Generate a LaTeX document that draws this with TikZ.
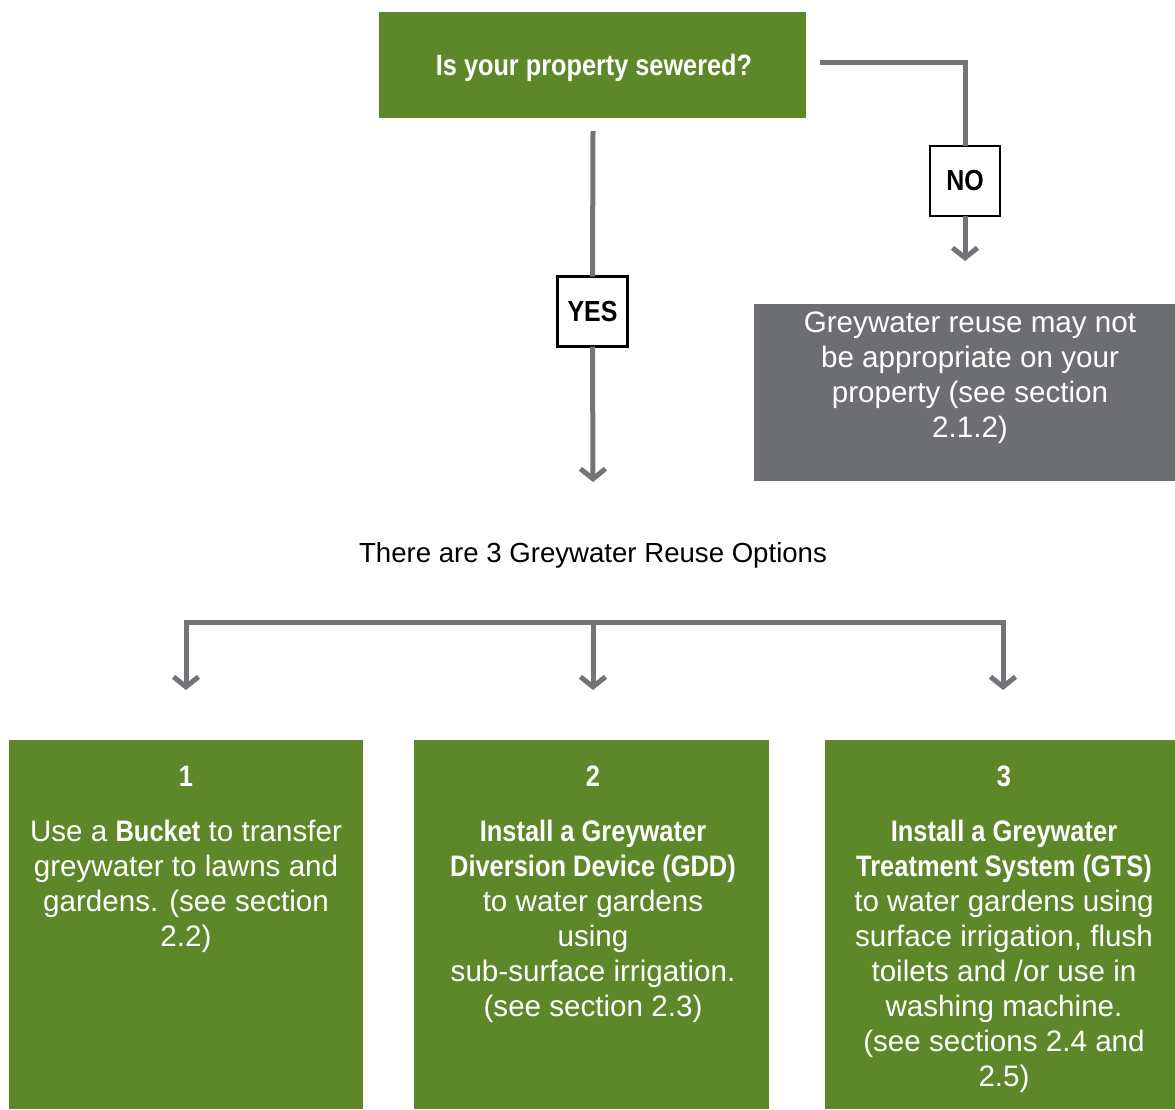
\documentclass[tikz,border=0pt]{standalone}
\usepackage{fontspec}
\setmainfont{Liberation Sans}[BoldFeatures={FakeStretch=0.86}]
\usetikzlibrary{arrows.meta}
\definecolor{leaf}{HTML}{5E8729}
\definecolor{slate}{HTML}{6D6E71}
\definecolor{wirecol}{HTML}{737477}
\tikzset{
  wire/.style={draw=wirecol, line width=5pt},
  wirearrow/.style={wire, -{Straight Barb[length=10pt,width=25pt]}},
  greenbox/.style={fill=leaf, draw=none, inner sep=0pt, outer sep=0pt, anchor=north west, minimum height=369pt},
  greybox/.style={fill=slate, draw=none, inner sep=0pt, outer sep=0pt, anchor=north west},
  tag/.style={draw=black, line width=2.5pt, fill=white, minimum width=70pt, minimum height=70pt, inner sep=0pt, outer sep=0pt, font=\fontsize{29}{32}\selectfont\bfseries},
  wtext/.style={text=white, align=center, inner sep=0pt, anchor=base, font=\fontsize{29.6}{35}\selectfont},
  btext/.style={text=black, inner sep=0pt, anchor=base, font=\fontsize{27.6}{32}\selectfont},
}
\begin{document}
\begin{tikzpicture}[x=1pt,y=-1pt]
\useasboundingbox (0,0) rectangle (1175,1109);
% top question
\node[greenbox, minimum width=427pt, minimum height=106pt] (q) at (379,12) {};
\node[wtext, font=\fontsize{29.4}{35}\selectfont\bfseries] (qt) at (594,75) {Is your property sewered?};
% NO branch
\coordinate (nostart) at (820,62);
\node[tag] (no) at (965,181) {NO};
\coordinate (notip) at (965,261);
\draw[wire] (nostart) -| (no.north);
\draw[wirearrow] (no.south) -- (notip);
\node[greybox, minimum width=421pt, minimum height=177pt] (nobox) at (754,304) {};
% anchor=base of a multi-line node is the baseline of its last line
\node[wtext] (nt) at (970,437) {Greywater reuse may not\\be appropriate on your\\property (see section\\2.1.2)};
% YES branch
\coordinate (yesstart) at (593,131);
\node[tag] (yes) at (592.5,311.5) {YES};
\coordinate (yestip) at (593,482);
\draw[wire] (yesstart) -- (yes.north);
\draw[wirearrow] (yes.south) -- (yestip);
\node[btext] (opts) at (593,562) {There are 3 Greywater Reuse Options};
% bus
\coordinate (busM) at (593,622);
\coordinate (tip1) at (186,690);
\coordinate (tip2) at (593,690);
\coordinate (tip3) at (1003,690);
\draw[wirearrow] (busM) -| (tip1);
\draw[wirearrow] (busM) -| (tip3);
\draw[wirearrow] (busM) -- (tip2);
% option boxes
\node[greenbox, minimum width=354pt] (o1) at (9,740) {};
\node[greenbox, minimum width=355pt] (o2) at (414,740) {};
\node[greenbox, minimum width=350pt] (o3) at (825,740) {};
\node[wtext] (t1) at (186,946) {\textbf{1}\\[20pt]Use a \textbf{Bucket} to transfer\\greywater to lawns and\\gardens. (see section\\2.2)};
\node[wtext] (t2) at (593,1016) {\textbf{2}\\[20pt]\textbf{Install a Greywater}\\\textbf{Diversion Device (GDD)}\\to water gardens\\using\\sub-surface irrigation.\\(see section 2.3)};
\node[wtext] (t3) at (1004,1086) {\textbf{3}\\[20pt]\textbf{Install a Greywater}\\\textbf{Treatment System (GTS)}\\to water gardens using\\surface irrigation, flush\\toilets and /or use in\\washing machine.\\(see sections 2.4 and\\2.5)};
\end{tikzpicture}
\end{document}
